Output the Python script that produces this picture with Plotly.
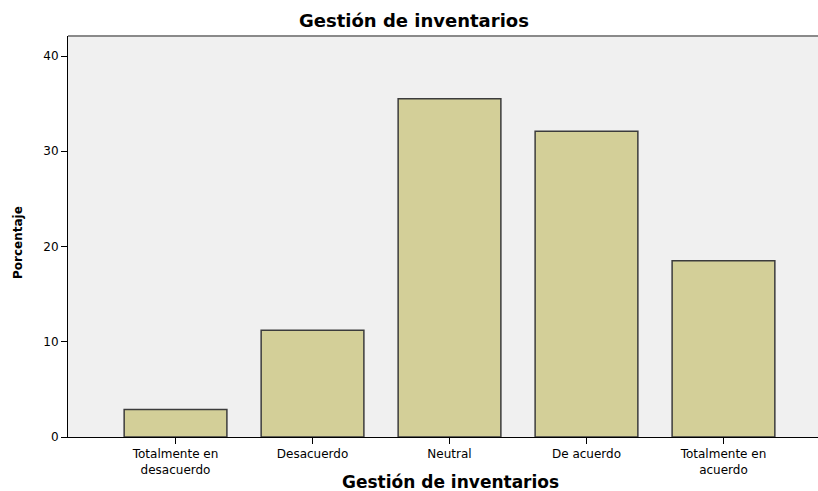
import plotly.graph_objects as go

categories = ["Totalmente en<br>desacuerdo", "Desacuerdo", "Neutral", "De acuerdo", "Totalmente en<br>acuerdo"]
values = [2.9, 11.2, 35.5, 32.1, 18.5]
y_ticks = [0, 10, 20, 30, 40]

x_idx = list(range(len(categories)))

fig = go.Figure(go.Bar(
    x=x_idx, y=values,
    marker=dict(color="#d3cf98", line=dict(color="#3c3c3c", width=1.5)),
    width=0.75,
))

font_family = "DejaVu Sans, Verdana, sans-serif"
W, H = 818, 491

fig.update_layout(
    width=W, height=H,
    margin=dict(l=68, r=0, t=36, b=54, autoexpand=False),
    paper_bgcolor="white",
    plot_bgcolor="#f0f0f0",
    showlegend=False,
    font=dict(family=font_family, size=12, color="black"),
    xaxis=dict(
        range=[-0.785, 4.69],
        tickmode="array", tickvals=x_idx, ticktext=categories,
        ticks="outside", ticklen=6, tickcolor="black",
        showline=True, linecolor="black", linewidth=1,
        showgrid=False, zeroline=False, automargin=False,
        tickfont=dict(size=12),
    ),
    yaxis=dict(
        range=[0, 42.1],
        tickmode="array", tickvals=y_ticks,
        ticks="outside", ticklen=6, tickcolor="black",
        showline=True, linecolor="black", linewidth=1,
        showgrid=False, zeroline=False, automargin=False,
        tickfont=dict(size=12),
    ),
    shapes=[dict(type="line", xref="paper", yref="paper", x0=0, x1=1, y0=1, y1=1,
                 line=dict(color="#8a8a8a", width=2))],
    annotations=[
        dict(text="<b>Gestión de inventarios</b>", xref="paper", yref="paper",
             x=(414 - 68) / 750, y=1 + (36 - 20) / 401, xanchor="center", yanchor="middle",
             showarrow=False, font=dict(size=18)),
        dict(text="<b>Gestión de inventarios</b>", xref="paper", yref="paper",
             x=(450 - 68) / 750, y=-(482 - 437) / 401, xanchor="center", yanchor="middle",
             showarrow=False, font=dict(size=17)),
        dict(text="<b>Porcentaje</b>", xref="paper", yref="paper",
             x=-(68 - 18) / 750, y=(437 - 243) / 401, xanchor="center", yanchor="middle",
             textangle=-90, showarrow=False, font=dict(size=12)),
    ],
)

fig.write_html("out.html",
               config={"displayModeBar": False},
               post_script="document.body.style.margin='0';document.body.style.overflow='hidden';")
